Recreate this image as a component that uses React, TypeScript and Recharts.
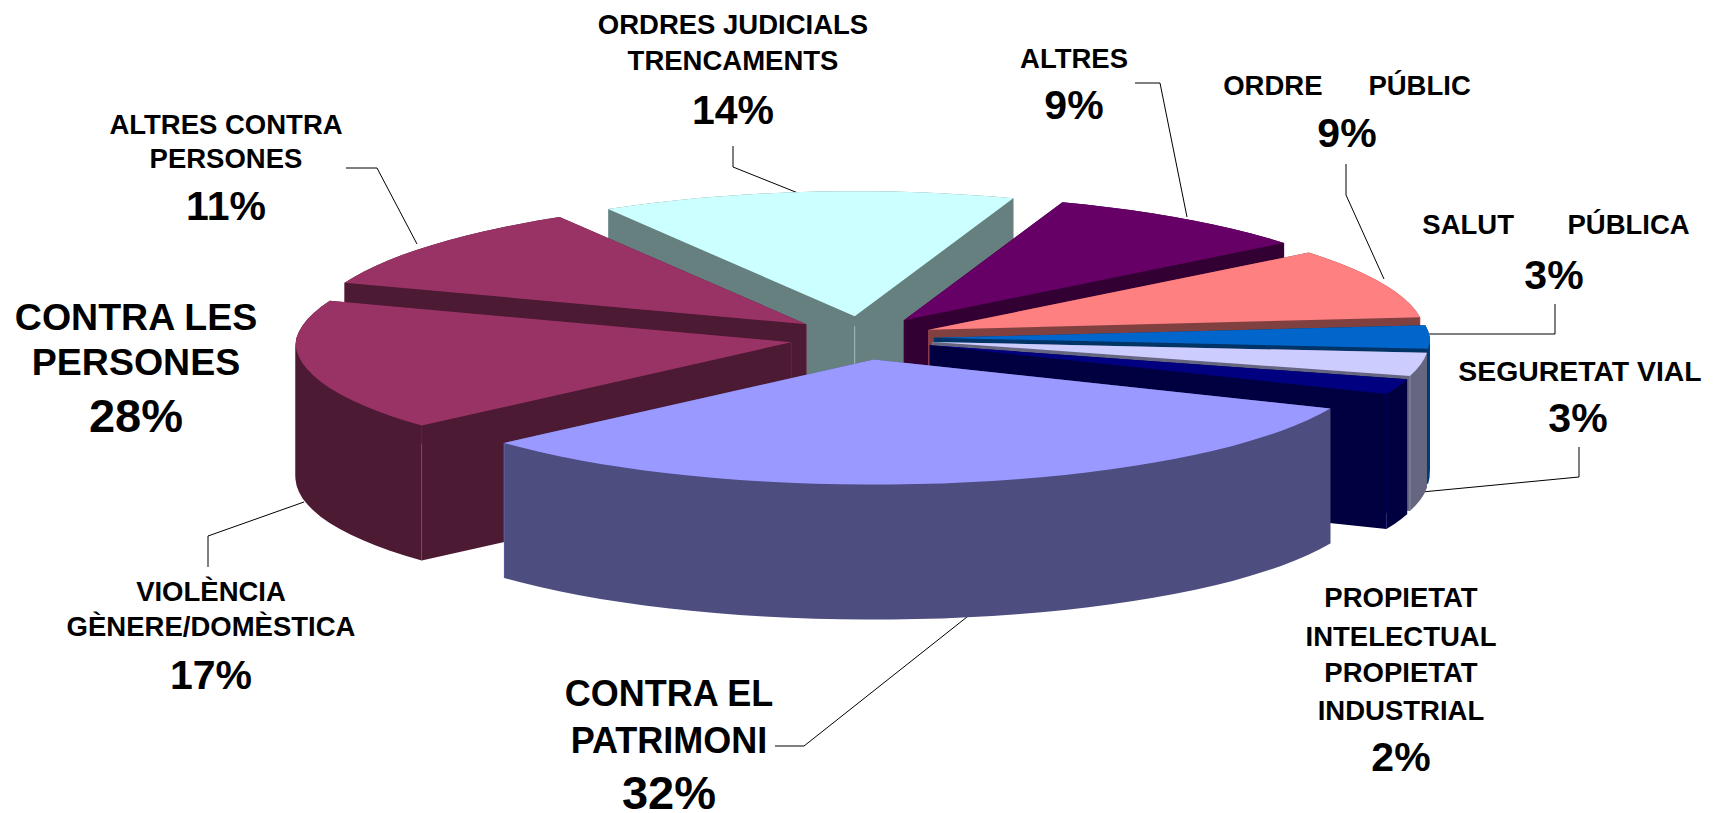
import { PieChart, Pie, Cell } from 'recharts';

// categories + values, clockwise from the top slice
const categories = [
  'ORDRES JUDICIALS',
  'ALTRES',
  'ORDRE PUBLIC',
  'SALUT PUBLICA',
  'SEGURETAT VIAL',
  'PROPIETAT',
  'CONTRA EL PATRIMONI',
  'VIOLENCIA',
  'ALTRES CONTRA PERSONES',
];
const values = [14, 9, 9, 3, 3, 2, 32, 17, 11];
const sliceColors = ['#CCFFFF', '#660066', '#FF8080', '#0066CC', '#CCCCFF', '#000080', '#9999FF', '#993366', '#993366'];

const labelLines = [
  ['ORDRES JUDICIALS', 'TRENCAMENTS'],
  ['ALTRES'],
  ['ORDRE      PÚBLIC'],
  ['SALUT       PÚBLICA'],
  ['SEGURETAT VIAL'],
  ['PROPIETAT', 'INTELECTUAL', 'PROPIETAT', 'INDUSTRIAL'],
  ['CONTRA EL', 'PATRIMONI'],
  ['VIOLÈNCIA', 'GÈNERE/DOMÈSTICA'],
  ['ALTRES CONTRA', 'PERSONES'],
];

// "CONTRA LES PERSONES" is a group title, it has no slice of its own
const groupLines = ['CONTRA LES', 'PERSONES'];
const groupValue = 28;

// far slices first so the near ones cover their walls
const paintOrder = [0, 1, 8, 2, 3, 4, 5, 7, 6];

const data = categories.map((name, i) => ({ name, value: values[i] }));

// 3d look of the pie
const CX = 862;
const CY = 338;
const RADIUS = 496;
const SQUASH = 125 / 496;
const EXPLODE_X = 0.145;
const EXPLODE_Y = 0.175;
const FAR_NARROW = 0.04;
const DEPTH = 135;

// label placement: text centre, baselines, percent centre + baseline
const labelLayout = [
  { x: 733, ys: [34, 70], px: 733, py: 124, size: 27.5, pct: 41 },
  { x: 1074, ys: [68], px: 1074, py: 119, size: 27.5, pct: 41 },
  { x: 1347, ys: [95], px: 1347, py: 147, size: 27.5, pct: 41 },
  { x: 1556, ys: [234], px: 1554, py: 289, size: 27.5, pct: 41 },
  { x: 1580, ys: [381], px: 1578, py: 432, size: 28.4, pct: 41 },
  { x: 1401, ys: [607, 646, 682, 720], px: 1401, py: 771, size: 27.5, pct: 41 },
  { x: 669, ys: [706, 753], px: 669, py: 809, size: 36, pct: 47 },
  { x: 211, ys: [601, 636], px: 211, py: 689, size: 27.5, pct: 41 },
  { x: 226, ys: [134, 168], px: 226, py: 220, size: 27.5, pct: 41 },
];
const groupLayout = { x: 136, ys: [330, 375], px: 136, py: 432, size: 37.5, pct: 47 };

const leaders = [
  '733,146 733,167 798,193',
  '1135,83 1160,83 1187,217',
  '1346,164 1346,195 1384,279',
  '1555,304 1555,334 1428,334',
  '1579,447 1579,477 1422,492',
  '775,746 804,746 972,613',
  '208,567 208,536 304,502',
  '346,168 377,168 417,244',
];

const halfShade = (hex: string) => {
  const n = parseInt(hex.slice(1), 16);
  const part = (v: number) => Math.round(v / 2).toString(16).padStart(2, '0');
  return `#${part((n >> 16) & 255)}${part((n >> 8) & 255)}${part(n & 255)}`;
};

const toPath = (pts: number[][]) => `M${pts.map((p) => `${p[0].toFixed(1)},${p[1].toFixed(1)}`).join('L')}Z`;

// cut the arc where it turns back in x, so each piece can be swept straight down
const monotonicRuns = (arc: number[][]) => {
  const runs: number[][][] = [[arc[0]]];
  let dir = 0;
  for (let i = 1; i < arc.length; i++) {
    const d = Math.sign(arc[i][0] - arc[i - 1][0]);
    if (dir !== 0 && d !== dir) runs.push([arc[i - 1]]);
    if (d !== 0) dir = d;
    runs[runs.length - 1].push(arc[i]);
  }
  return runs;
};

// one slice seen from above: walls first, then the lid
const Slice3D = (props: any) => {
  const { cx, cy, outerRadius, startAngle, endAngle, fill, name, only } = props;
  if (name !== only) return <g />;
  const rad = (a: number) => (a * Math.PI) / 180;
  const mid = (startAngle + endAngle) / 2;
  const ox = cx + Math.cos(rad(mid)) * outerRadius * EXPLODE_X;
  const oy = cy - Math.sin(rad(mid)) * outerRadius * EXPLODE_Y * SQUASH;
  const project = (a: number) => {
    const up = Math.sin(rad(a));
    const narrow = up > 0 ? 1 - FAR_NARROW * up : 1;
    return [ox + Math.cos(rad(a)) * outerRadius * narrow, oy - up * outerRadius * SQUASH];
  };
  const lo = Math.min(startAngle, endAngle);
  const hi = Math.max(startAngle, endAngle);
  const arc: number[][] = [];
  const steps = Math.max(2, Math.ceil((hi - lo) / 3));
  for (let i = 0; i <= steps; i++) arc.push(project(lo + ((hi - lo) * i) / steps));
  const down = (p: number[]) => [p[0], p[1] + DEPTH];
  const wall = halfShade(fill);
  const first = arc[0];
  const last = arc[arc.length - 1];
  const apex = [ox, oy];
  const nearEnd = first[1] > last[1] ? first : last;
  const seam = (p: number[]) => (
    <line x1={p[0]} y1={p[1]} x2={p[0]} y2={p[1] + DEPTH} stroke={fill} strokeOpacity={0.35} strokeWidth={1} />
  );
  return (
    <g>
      <path d={toPath([apex, first, down(first), down(apex)])} fill={wall} />
      <path d={toPath([apex, last, down(last), down(apex)])} fill={wall} />
      {seam(apex)}
      {monotonicRuns(arc).map((run, i) => (
        <path key={i} d={toPath([...run, ...run.map(down).reverse()])} fill={wall} />
      ))}
      {seam(nearEnd)}
      <path d={toPath([apex, ...arc])} fill={fill} />
    </g>
  );
};

const LabelBlock = ({ lines, value, box }: any) => (
  <g fontFamily='"Liberation Sans", Arial, sans-serif' fontWeight="bold" fill="#000" textAnchor="middle">
    {lines.map((line: string, i: number) => (
      <text key={i} x={box.x} y={box.ys[i]} fontSize={box.size} style={{ whiteSpace: 'pre' }}>
        {line}
      </text>
    ))}
    <text x={box.px} y={box.py} fontSize={box.pct}>{`${value}%`}</text>
  </g>
);

export default function App() {
  return (
    <div style={{ position: 'absolute', left: 0, top: 0, width: 1716, height: 813, background: '#fff' }}>
      <PieChart width={1716} height={813} margin={{ top: 0, right: 0, bottom: 0, left: 0 }}>
        {paintOrder.map((idx) => (
          <Pie
            key={idx}
            data={data}
            dataKey="value"
            nameKey="name"
            cx={CX}
            cy={CY}
            innerRadius={0}
            outerRadius={RADIUS}
            startAngle={121}
            endAngle={-239}
            stroke="none"
            label={false}
            labelLine={false}
            isAnimationActive={false}
            shape={(p: any) => <Slice3D {...p} only={categories[idx]} />}
          >
            {data.map((d, i) => (
              <Cell key={d.name} fill={sliceColors[i]} />
            ))}
          </Pie>
        ))}
        {leaders.map((pts) => (
          <polyline key={pts} points={pts} fill="none" stroke="#000" strokeWidth={1} />
        ))}
        {labelLines.map((lines, i) => (
          <LabelBlock key={i} lines={lines} value={values[i]} box={labelLayout[i]} />
        ))}
        <LabelBlock lines={groupLines} value={groupValue} box={groupLayout} />
      </PieChart>
    </div>
  );
}
